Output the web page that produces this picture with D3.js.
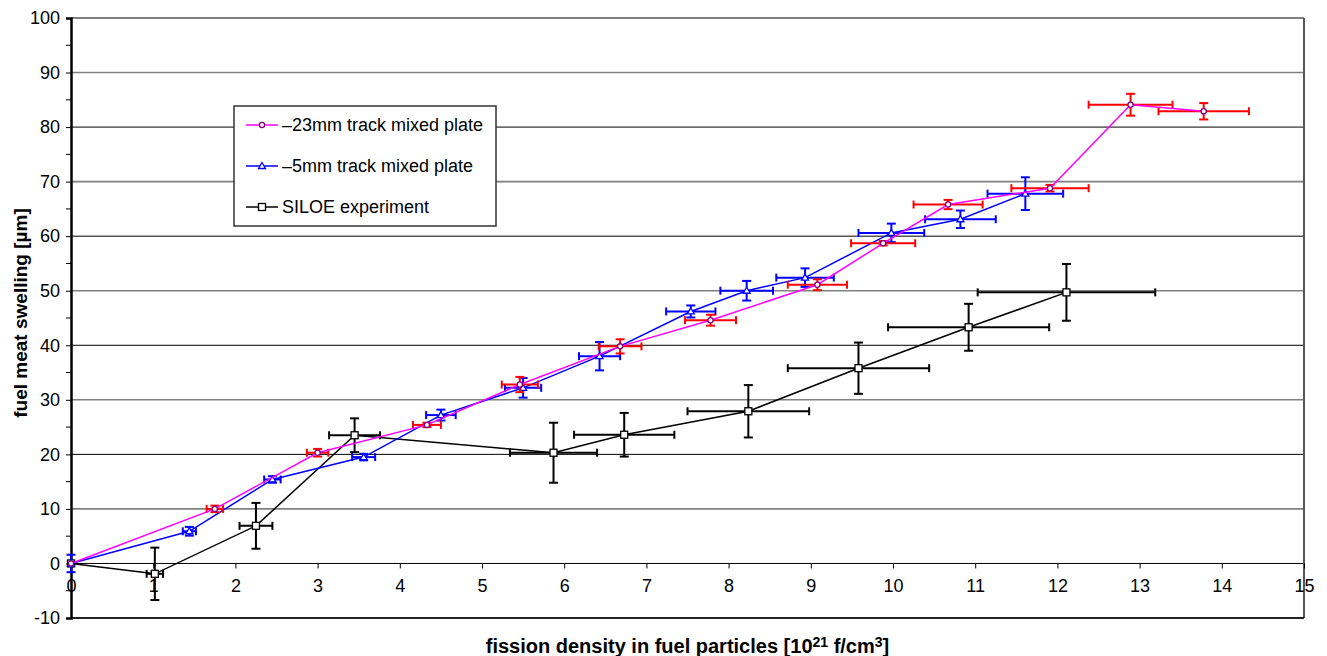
<!DOCTYPE html>
<html lang="en">
<head>
<meta charset="UTF-8">
<title>Fuel meat swelling</title>
<script src="https://d3js.org/d3.v7.min.js"></script>
<style>
  body { margin: 0; background: #fff; }
  svg text { font-family: "Liberation Sans", Arial, sans-serif; fill: #000; }
</style>
</head>
<body>
<svg id="main" width="1327" height="656"></svg>
<script>
// -23mm track mixed plate
const mixed23X    = [0, 1.75, 3.0, 4.33, 5.46, 6.68, 7.78, 9.08, 9.88, 10.67, 11.91, 12.89, 13.78];
const mixed23Y    = [0, 10, 20.3, 25.4, 32.8, 39.8, 44.6, 51.1, 58.7, 65.8, 68.8, 84.1, 82.9];
const mixed23XErr = [0, 0.1, 0.13, 0.17, 0.22, 0.26, 0.31, 0.36, 0.39, 0.42, 0.47, 0.51, 0.55];
const mixed23YErr = [0, 0.6, 0.7, 0.4, 1.4, 1.3, 1.0, 1.0, 0.4, 0.85, 0.6, 2.0, 1.5];

// -5mm track mixed plate
const mixed5X    = [0, 1.44, 2.45, 3.56, 4.5, 5.5, 6.43, 7.54, 8.22, 8.93, 9.98, 10.82, 11.61];
const mixed5Y    = [0, 5.9, 15.4, 19.5, 27.2, 32.2, 38.0, 46.2, 50.0, 52.4, 60.6, 63.1, 67.8];
const mixed5XErr = [0, 0.08, 0.1, 0.14, 0.18, 0.22, 0.25, 0.3, 0.32, 0.35, 0.4, 0.43, 0.46];
const mixed5YErr = [1.6, 0.8, 0.6, 0.6, 1.0, 1.8, 2.6, 1.1, 1.8, 1.7, 1.7, 1.6, 3.0];

// SILOE experiment
const siloeX    = [0, 1.02, 2.25, 3.45, 5.87, 6.73, 8.24, 9.58, 10.92, 12.11];
const siloeY    = [0, -1.9, 6.9, 23.5, 20.3, 23.6, 27.9, 35.8, 43.3, 49.7];
const siloeXErr = [0, 0.1, 0.2, 0.31, 0.53, 0.61, 0.74, 0.86, 0.98, 1.08];
const siloeYErr = [0, 4.8, 4.2, 3.1, 5.5, 4.0, 4.8, 4.7, 4.3, 5.2];

const xTicks = d3.range(0, 16, 1);
const yTicks = d3.range(-10, 101, 10);
const yMinor = d3.range(-5, 100, 10);

const series = [
  {name: "\u201323mm track mixed plate", xs: mixed23X, ys: mixed23Y, xe: mixed23XErr, ye: mixed23YErr,
   line: "#ff00ff", err: "#ff0000", mark: "#800080", shape: "circle"},
  {name: "\u20135mm track mixed plate", xs: mixed5X, ys: mixed5Y, xe: mixed5XErr, ye: mixed5YErr,
   line: "#0000ff", err: "#0000ff", mark: "#0000ff", shape: "triangle"},
  {name: "SILOE experiment", xs: siloeX, ys: siloeY, xe: siloeXErr, ye: siloeYErr,
   line: "#000000", err: "#000000", mark: "#000000", shape: "square"}
];

const svg = d3.select("#main");
const x = d3.scaleLinear().domain([0, 15]).range([71, 1304]);
const y = d3.scaleLinear().domain([-10, 100]).range([618, 18]);

// gridlines
svg.append("g").selectAll("line")
  .data(yTicks.filter(v => v > -10))
  .join("line")
  .attr("x1", x(0)).attr("x2", x(15))
  .attr("y1", d => y(d)).attr("y2", d => y(d))
  .attr("stroke", d => (d / 10) % 2 === 0 ? "#000" : "#808080")
  .attr("stroke-width", d => (d / 10) % 2 === 0 ? 1 : 1.6);

// frame: right and bottom
svg.append("line").attr("x1", x(15)).attr("x2", x(15)).attr("y1", y(100)).attr("y2", y(-10))
  .attr("stroke", "#555").attr("stroke-width", 2);
svg.append("line").attr("x1", x(0)).attr("x2", x(15)).attr("y1", y(-10)).attr("y2", y(-10))
  .attr("stroke", "#222").attr("stroke-width", 2);

// y axis
const yAxis = svg.append("g").attr("transform", `translate(${x(0)},0)`)
  .call(d3.axisLeft(y).tickValues(yTicks).tickSize(5).tickPadding(6).tickFormat(d => String(d)));
yAxis.select(".domain").attr("stroke-width", 2.5);
yAxis.selectAll("text").style("font-size", "18px");
yAxis.selectAll(".minor").data(yMinor).join("line").attr("class", "minor")
  .attr("x1", -5).attr("x2", 0).attr("y1", d => y(d)).attr("y2", d => y(d)).attr("stroke", "#000");

// x axis along y = 0
const xAxis = svg.append("g").attr("transform", `translate(0,${y(0)})`)
  .call(d3.axisBottom(x).tickValues(xTicks).tickSize(5).tickPadding(11).tickFormat(d => String(d)));
xAxis.select(".domain").remove();
xAxis.selectAll("text").style("font-size", "18px");

// axis titles
svg.append("text").attr("x", (x(0) + x(15)) / 2).attr("y", 653)
  .attr("text-anchor", "middle").style("font-size", "20px").style("font-weight", "bold")
  .html('fission density in fuel particles [10<tspan dy="-6" font-size="14">21</tspan><tspan dy="6"> f/cm</tspan><tspan dy="-6" font-size="14">3</tspan><tspan dy="6">]</tspan>');
svg.append("text").attr("transform", "translate(27,313) rotate(-90)")
  .attr("text-anchor", "middle").style("font-size", "19px").style("font-weight", "bold")
  .text("fuel meat swelling [\u00b5m]");

function marker(g, shape, cx, cy, color) {
  if (shape === "circle") {
    g.append("circle").attr("cx", cx).attr("cy", cy).attr("r", 2.6)
      .attr("fill", "#fff").attr("stroke", color).attr("stroke-width", 1.3);
  } else if (shape === "triangle") {
    g.append("path").attr("d", `M${cx},${cy - 3.5}L${cx + 3.5},${cy + 2.5}L${cx - 3.5},${cy + 2.5}Z`)
      .attr("fill", "#fff").attr("stroke", color).attr("stroke-width", 1.3);
  } else {
    g.append("rect").attr("x", cx - 3.5).attr("y", cy - 3.5).attr("width", 7).attr("height", 7)
      .attr("fill", "#fff").attr("stroke", color).attr("stroke-width", 1.3);
  }
}

const plot = svg.append("g");
// draw SILOE first, then -5mm, then -23mm on top
[series[2], series[1], series[0]].forEach(s => {
  const pts = s.xs.map((v, i) => ({x: v, y: s.ys[i], xe: s.xe[i], ye: s.ye[i]}));
  const g = plot.append("g");
  const eb = g.append("g").attr("stroke", s.err).attr("stroke-width", 2);
  pts.forEach(p => {
    const cx = x(p.x), cy = y(p.y);
    if (p.ye > 0) {
      eb.append("line").attr("x1", cx).attr("x2", cx).attr("y1", y(p.y + p.ye)).attr("y2", y(p.y - p.ye));
      eb.append("line").attr("x1", cx - 4.5).attr("x2", cx + 4.5).attr("y1", y(p.y + p.ye)).attr("y2", y(p.y + p.ye));
      eb.append("line").attr("x1", cx - 4.5).attr("x2", cx + 4.5).attr("y1", y(p.y - p.ye)).attr("y2", y(p.y - p.ye));
    }
    if (p.xe > 0) {
      eb.append("line").attr("x1", x(p.x - p.xe)).attr("x2", x(p.x + p.xe)).attr("y1", cy).attr("y2", cy);
      eb.append("line").attr("x1", x(p.x - p.xe)).attr("x2", x(p.x - p.xe)).attr("y1", cy - 4).attr("y2", cy + 4);
      eb.append("line").attr("x1", x(p.x + p.xe)).attr("x2", x(p.x + p.xe)).attr("y1", cy - 4).attr("y2", cy + 4);
    }
  });
  g.append("path").datum(pts)
    .attr("d", d3.line().x(d => x(d.x)).y(d => y(d.y)))
    .attr("fill", "none").attr("stroke", s.line).attr("stroke-width", 1.5);
  pts.forEach(p => marker(g, s.shape, x(p.x), y(p.y), s.mark));
});

// legend
const lg = svg.append("g").attr("transform", "translate(234,106)");
lg.append("rect").attr("width", 262).attr("height", 120)
  .attr("fill", "#fff").attr("stroke", "#333").attr("stroke-width", 1.5);
series.forEach((s, i) => {
  const ly = 19 + i * 41;
  lg.append("line").attr("x1", 12).attr("x2", 44).attr("y1", ly).attr("y2", ly)
    .attr("stroke", s.line).attr("stroke-width", 1.5);
  marker(lg, s.shape, 28, ly, s.mark);
  lg.append("text").attr("x", 48).attr("y", ly + 6).style("font-size", "18px").text(s.name);
});
</script>
</body>
</html>
